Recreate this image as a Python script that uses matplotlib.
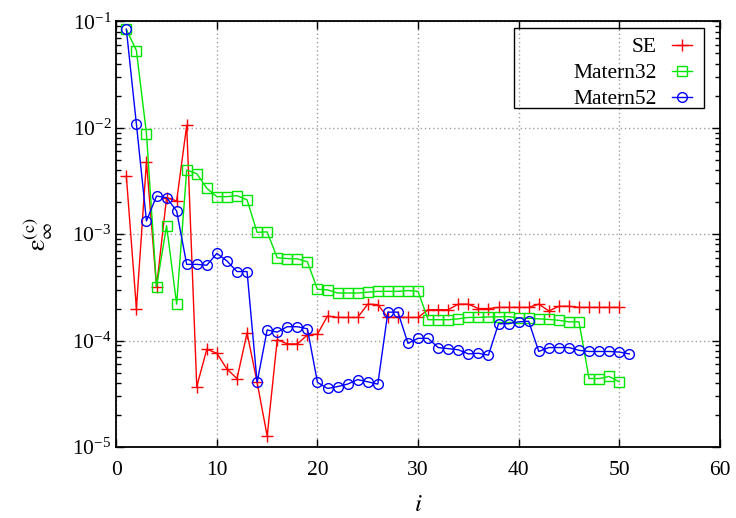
import matplotlib
matplotlib.use("Agg")
import matplotlib.pyplot as plt
from matplotlib.patches import Rectangle
from matplotlib.ticker import LogLocator, NullFormatter, MultipleLocator

plt.rcParams['font.family'] = ['Liberation Serif', 'DejaVu Serif']
plt.rcParams['mathtext.fontset'] = 'stix'

# errors per iteration
se = [3.5e-3, 2.0e-4, 4.8e-3, 3.2e-4, 2.2e-3, 2.05e-3, 1.05e-2, 3.7e-5, 8.3e-5, 7.6e-5,
      5.4e-5, 4.4e-5, 1.18e-4, 4.05e-5, 1.27e-5, 1.02e-4, 9.3e-5, 9.3e-5, 1.13e-4, 1.15e-4,
      1.7e-4, 1.65e-4, 1.65e-4, 1.65e-4, 2.2e-4, 2.18e-4, 1.65e-4, 1.65e-4, 1.65e-4, 1.65e-4,
      1.95e-4, 1.95e-4, 1.95e-4, 2.2e-4, 2.2e-4, 2.0e-4, 2.0e-4, 2.05e-4, 2.05e-4, 2.05e-4,
      2.05e-4, 2.2e-4, 1.9e-4, 2.1e-4, 2.1e-4, 2.05e-4, 2.05e-4, 2.05e-4, 2.05e-4, 2.05e-4]
matern32 = [0.084, 0.053, 8.8e-3, 3.2e-4, 1.2e-3, 2.2e-4, 4.0e-3, 3.7e-3, 2.7e-3, 2.25e-3,
            2.25e-3, 2.3e-3, 2.1e-3, 1.04e-3, 1.05e-3, 6.0e-4, 5.9e-4, 5.85e-4, 5.5e-4, 3.03e-4,
            3.0e-4, 2.8e-4, 2.8e-4, 2.8e-4, 2.85e-4, 2.9e-4, 2.9e-4, 2.9e-4, 2.95e-4, 2.9e-4,
            1.57e-4, 1.57e-4, 1.57e-4, 1.6e-4, 1.65e-4, 1.65e-4, 1.67e-4, 1.67e-4, 1.68e-4, 1.63e-4,
            1.62e-4, 1.6e-4, 1.58e-4, 1.55e-4, 1.5e-4, 1.5e-4, 4.4e-5, 4.4e-5, 4.6e-5, 4.1e-5]
matern52 = [0.084, 0.0108, 1.33e-3, 2.28e-3, 2.2e-3, 1.65e-3, 5.2e-4, 5.2e-4, 5.1e-4, 6.6e-4,
            5.6e-4, 4.45e-4, 4.45e-4, 4.05e-5, 1.26e-4, 1.2e-4, 1.35e-4, 1.35e-4, 1.29e-4, 4.05e-5,
            3.55e-5, 3.7e-5, 3.9e-5, 4.3e-5, 4.1e-5, 3.9e-5, 1.85e-4, 1.85e-4, 9.4e-5, 1.05e-4,
            1.05e-4, 8.6e-5, 8.4e-5, 8.2e-5, 7.5e-5, 7.6e-5, 7.3e-5, 1.44e-4, 1.44e-4, 1.5e-4,
            1.52e-4, 7.9e-5, 8.6e-5, 8.6e-5, 8.6e-5, 8.1e-5, 7.9e-5, 7.9e-5, 7.9e-5, 7.8e-5,
            7.5e-5]

labels = ['SE', 'Matern32', 'Matern52']

fig = plt.figure(figsize=(7.36, 5.18), dpi=100)
ax = fig.add_axes([0.158, 0.137, 0.820, 0.822])

ax.plot(range(1, len(se) + 1), se, '-', color='#ff0000', lw=1.0,
        marker='+', ms=9, mew=1.0, label=labels[0])
ax.plot(range(1, len(matern32) + 1), matern32, '-', color='#00e600', lw=1.0,
        marker='s', ms=7, mfc='none', mew=1.0, label=labels[1])
ax.plot(range(1, len(matern52) + 1), matern52, '-', color='#0000ff', lw=1.0,
        marker='o', ms=7, mfc='none', mew=1.0, label=labels[2])

ax.set_yscale('log')
ax.set_xlim(0, 60)
ax.set_ylim(1e-5, 1e-1)
ax.xaxis.set_major_locator(MultipleLocator(10))
ax.yaxis.set_major_locator(LogLocator(base=10, numticks=10))
ax.yaxis.set_minor_locator(LogLocator(base=10, subs=range(2, 10), numticks=20))
ax.yaxis.set_minor_formatter(NullFormatter())

ax.grid(True, which='major', color='#a0a0a0', linestyle=(0, (1, 2)), lw=1.0)
ax.tick_params(which='both', direction='in', top=True, right=True, labelsize=15.5)
ax.tick_params(which='major', length=6, width=1)
ax.tick_params(which='minor', length=3.5, width=1)
ax.tick_params(axis='x', pad=10)
for s in ax.spines.values():
    s.set_linewidth(1.3)

ax.set_xlabel(r'$i$', fontsize=18, labelpad=10)
ax.set_ylabel(r'$\mathrm{\varepsilon}_{\infty}^{\mathrm{(c)}}$', fontsize=19, labelpad=12)

# gnuplot style key: labels right aligned, sample after the label
leg = ax.legend(loc='upper right', bbox_to_anchor=(0.965, 0.978), markerfirst=False,
                fontsize=15.5, frameon=False, handlelength=0.95,
                handletextpad=0.7, labelspacing=0.28, borderpad=0.3, borderaxespad=0)
ax.add_patch(Rectangle((0.659, 0.796), 0.315, 0.188, transform=ax.transAxes,
                       fill=False, edgecolor='black', lw=1.0, zorder=5))

fig.savefig('out.png', dpi=100)
